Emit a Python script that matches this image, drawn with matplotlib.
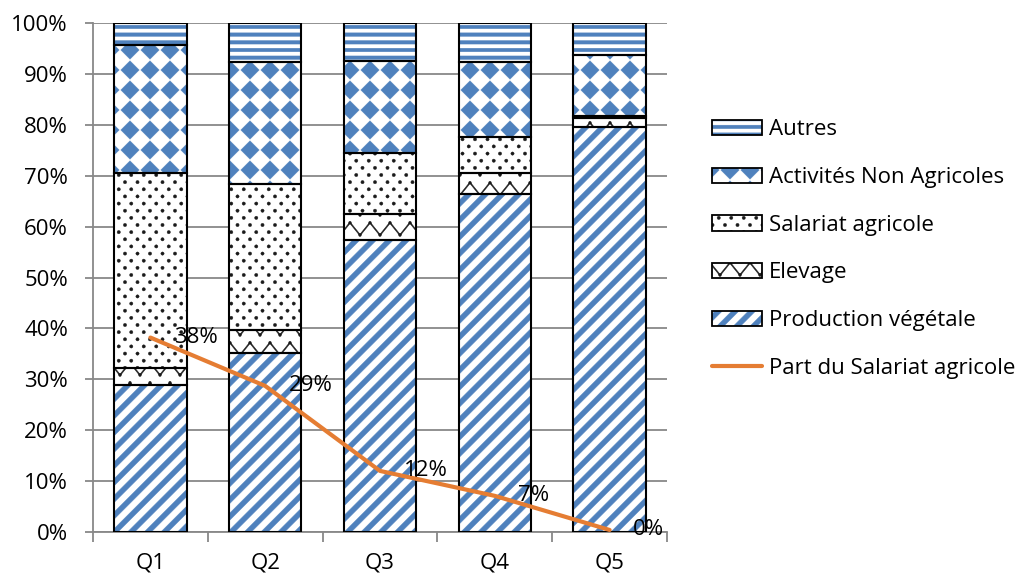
import numpy as np
import matplotlib
matplotlib.use("Agg")
import matplotlib.pyplot as plt
from matplotlib import hatch as mhatch
from matplotlib.path import Path
from matplotlib.patches import Patch
from matplotlib.lines import Line2D
from matplotlib.ticker import FixedLocator

# Revenue shares (%) by quintile
quintiles = ["Q1", "Q2", "Q3", "Q4", "Q5"]
production_vegetale = [28.9, 35.1, 57.4, 66.4, 79.5]
elevage = [3.4, 4.6, 5.1, 4.2, 1.8]
salariat_agricole = [38.2, 28.7, 12.0, 7.1, 0.4]
activites_non_agricoles = [25.2, 23.9, 18.0, 14.6, 12.0]
autres = [4.3, 7.7, 7.5, 7.7, 6.3]

BLUE = "#4F81BD"
DARK = "#1a1a1a"
ORANGE = "#E57D33"
GRID = "#888888"
FS = 16


# --- hatch patterns drawn as filled shapes in the unit tile -------------
class TileHatch(mhatch.HatchPatternBase):
    key = None

    def __init__(self, hatch, density):
        shapes = self.shapes() if (hatch and self.key in hatch) else []
        self.polys = [np.vstack([p, p[:1]]) for p in shapes]
        self.num_vertices = sum(len(p) for p in self.polys)

    def set_vertices_and_codes(self, vertices, codes):
        i = 0
        for p in self.polys:
            n = len(p)
            vertices[i:i + n] = p
            codes[i] = Path.MOVETO
            codes[i + 1:i + n - 1] = Path.LINETO
            codes[i + n - 1] = Path.CLOSEPOLY
            i += n


def circle(cx, cy, r, k=8):
    a = np.linspace(0, 2 * np.pi, k + 1)[:-1]
    return np.column_stack([cx + r * np.cos(a), cy + r * np.sin(a)])


class Stripes(TileHatch):
    key = "/"

    def shapes(self):
        n, w = 6, 0.072
        out = []
        for k in range(-n - 1, n + 1):
            c = k / n
            out.append(np.array([[-0.1, c - 0.1], [1.1, c + 1.1],
                                 [1.1, c + 1.1 + w], [-0.1, c - 0.1 + w]]))
        return out


class Bands(TileHatch):
    key = "-"

    def shapes(self):
        m, t = 13, 0.035
        return [np.array([[-0.1, y - t / 2], [1.1, y - t / 2],
                          [1.1, y + t / 2], [-0.1, y + t / 2]])
                for y in (np.arange(m) + 0.5) / m]


class Diamonds(TileHatch):
    key = "o"

    def shapes(self):
        n = 5
        r = 0.46 / n
        out = []
        for i in range(n):
            for j in range(n):
                cx, cy = (i + 0.5) / n, (j + 0.5) / n
                out.append(np.array([[cx - r, cy], [cx, cy - r],
                                     [cx + r, cy], [cx, cy + r]]))
        return out


class Dots(TileHatch):
    key = "."

    def shapes(self):
        n, rows, r = 8, 14, 0.017
        out = []
        for j in range(rows):
            y = (j + 0.5) / rows
            xs = np.arange(n + 1) / n if j % 2 == 0 else (np.arange(n) + 0.5) / n
            out += [circle(x, y, r) for x in xs]
        return out


class Zigzag(TileHatch):
    key = "x"

    def shapes(self):
        n, t = 5, 0.018
        k = np.arange(-1, 2 * n + 2)
        xs = k / (2 * n)
        amp = 0.62 / n
        out = []
        for j in range(n):
            ys = j / n + 0.2 / n + amp * (np.abs(k) % 2)
            fwd = np.column_stack([xs, ys])
            out.append(np.vstack([fwd, fwd[::-1] + (0, t)]))
            out += [circle(px, py + t / 2, 0.014) for px, py in fwd]
        return out


mhatch._hatch_types[:] = [Stripes, Bands, Diamonds, Dots, Zigzag]

plt.rcParams["hatch.linewidth"] = 0.3
plt.rcParams["font.family"] = ["Open Sans", "DejaVu Sans"]
plt.rcParams["font.size"] = FS

fig = plt.figure(figsize=(10.27, 5.78), dpi=100)
ax = fig.add_axes([93 / 1027, 46 / 578, 574 / 1027, 509 / 578])

series = [
    ("Production végétale", production_vegetale, "/", BLUE),
    ("Elevage", elevage, "x", DARK),
    ("Salariat agricole", salariat_agricole, ".", DARK),
    ("Activités Non Agricoles", activites_non_agricoles, "o", BLUE),
    ("Autres", autres, "-", BLUE),
]

x = np.arange(len(quintiles))
width = 0.63
bottom = np.zeros(len(quintiles))
handles = {}
for name, vals, hatch, hc in series:
    vals = np.array(vals)
    ax.bar(x, vals, width, bottom=bottom, color="white", edgecolor=hc,
           linewidth=0, hatch=hatch, zorder=2)
    ax.bar(x, vals, width, bottom=bottom, fill=False, edgecolor="black",
           linewidth=1.5, zorder=3)
    bottom += vals
    handles[name] = (Patch(facecolor="white", edgecolor=hc, linewidth=0, hatch=hatch),
                     Patch(fill=False, edgecolor="black", linewidth=1.3))

# share of agricultural wage labour, with value labels
ax.plot(x, salariat_agricole, color=ORANGE, linewidth=3, zorder=4,
        solid_capstyle="round")
for xi, v in zip(x, salariat_agricole):
    ax.annotate(f"{v:.0f}%", (xi, v), xytext=(17, 0), textcoords="offset points",
                ha="left", va="center", fontsize=FS, zorder=5)

ax.set_xlim(-0.5, len(quintiles) - 0.5)
ax.set_ylim(0, 100)
ax.set_yticks(np.arange(0, 101, 10))
ax.set_yticklabels([f"{v}%" for v in range(0, 101, 10)])
ax.set_xticks(x)
ax.set_xticklabels(quintiles)
ax.xaxis.set_minor_locator(FixedLocator(np.arange(-0.5, len(quintiles), 1)))
ax.tick_params(axis="x", which="major", length=0, pad=15)
ax.tick_params(axis="x", which="minor", length=7, width=1.3, color=GRID)
ax.tick_params(axis="y", length=6, width=1.3, color=GRID, pad=12)
ax.grid(axis="y", color=GRID, linewidth=1.3, zorder=0)
ax.set_axisbelow(True)
for s in ("top", "right"):
    ax.spines[s].set_visible(False)
for s in ("left", "bottom"):
    ax.spines[s].set_color(GRID)
    ax.spines[s].set_linewidth(1.3)

order = ["Autres", "Activités Non Agricoles", "Salariat agricole", "Elevage",
         "Production végétale"]
leg_handles = [handles[k] for k in order] + [
    Line2D([], [], color=ORANGE, linewidth=3, solid_capstyle="round")]
leg_labels = order + ["Part du Salariat agricole"]
fig.legend(leg_handles, leg_labels, loc="center left",
           bbox_to_anchor=(712 / 1027, 1 - 249 / 578), frameon=False,
           borderpad=0, borderaxespad=0, handlelength=2.25, handleheight=0.68,
           handletextpad=0.3, labelspacing=1.2, fontsize=FS)

fig.savefig("out.png", dpi=100)
